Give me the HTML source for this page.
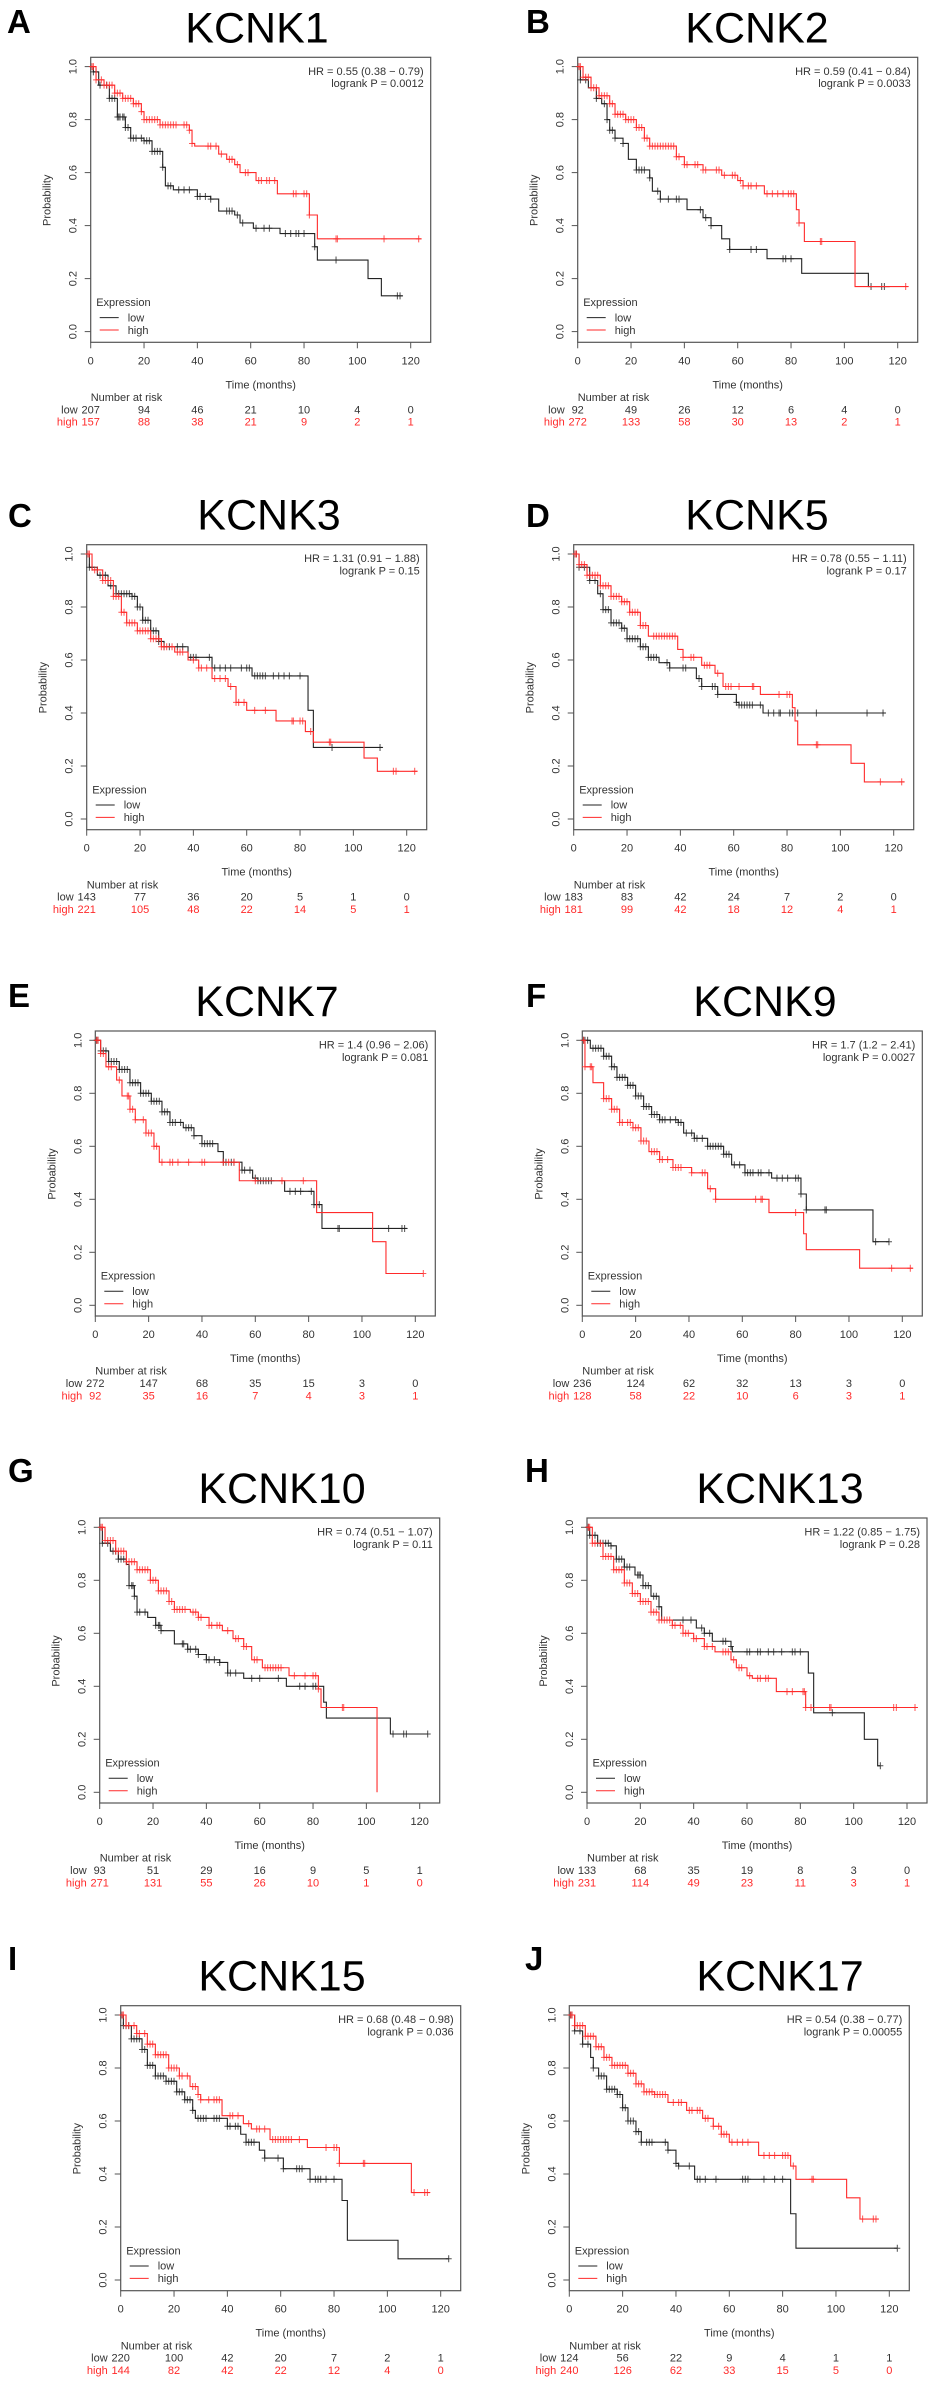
<!DOCTYPE html>
<html><head><meta charset="utf-8">
<style>
html,body{margin:0;padding:0;background:#fff;}
svg{display:block;font-family:"Liberation Sans",Arial,sans-serif;}
</style></head>
<body>
<svg id="fig" width="935" height="2384" viewBox="0 0 935 2384" xmlns="http://www.w3.org/2000/svg"></svg>
<script>
// ---- data (months, survival probability) ----
const A_low=[[0,1],[1,0.98],[3,0.93],[7,0.88],[10,0.81],[13,0.77],[15,0.73],[20,0.72],[23,0.68],[27,0.62],[28,0.55],[31,0.535],[40,0.51],[45,0.5],[48,0.455],[54,0.44],[56,0.41],[61,0.39],[71,0.37],[84,0.32],[85,0.27],[104,0.2],[109,0.135],[117,0.135]];
const A_high=[[0,1],[2,0.95],[5,0.93],[9,0.9],[12,0.88],[16,0.86],[19,0.83],[20,0.8],[26,0.78],[37,0.76],[38,0.71],[39,0.7],[48,0.67],[51,0.65],[54,0.63],[56,0.6],[62,0.57],[70,0.52],[82,0.44],[85,0.35],[124,0.35]];
const A_lowC=[1,2,3.5,6,7,8,9,10,10.5,11,12,12.5,13,14,15,16,17,19,20,21,22,23,24,25,26,27,29,30,33,35,37,40,41,43,45,51,52,53,55,57,62,65,67,73,75,77,78,80,84,92,115,116];
const A_highC=[0.5,1,2,4,5,6,7,8,9,10,11,12,13,14,15,16,17,18,19,20,21,22,23,24,25,26,27,28,29,30,31,32,35,36,37,38,44,45,47,49,52,53,55,58,59,63,64,66,67,69,76,77,80,81,82,92,92.5,110,123];
const B_low=[[0,1],[1,0.95],[4,0.92],[7,0.88],[9,0.86],[11,0.8],[12,0.76],[14,0.73],[17,0.71],[19,0.65],[22,0.61],[27,0.58],[28,0.53],[31,0.5],[41,0.46],[47,0.43],[50,0.4],[54,0.35],[57,0.31],[71,0.275],[84,0.22],[109,0.17],[117,0.17]];
const B_high=[[0,1],[2,0.96],[5,0.92],[8,0.89],[12,0.86],[14,0.82],[18,0.8],[22,0.77],[25,0.73],[27,0.7],[37,0.66],[40,0.63],[47,0.61],[54,0.59],[60,0.57],[62,0.55],[70,0.52],[82,0.46],[83,0.41],[85,0.34],[104,0.17],[124,0.17]];
const B_lowC=[1,3,7,10,11,12,13,14,17,22,23,24,25,27,30,31,34,37,38,46,48,50,57,65,67,77,78,80,110,114,115];
const B_highC=[0.5,1,2,3,4,5,6,7,8,9,10,11,12,13,14,15,16,17,18,19,20,21,22,23,24,25,26,27,28,29,30,31,32,33,34,35,36,37,38,40,41,44,45,47,48,52,53,55,58,59,61,62,64,65,67,71,73,75,77,79,80,81,83,91,91.5,123];
const C_low=[[0,1],[1,0.95],[4,0.92],[8,0.88],[11,0.85],[17,0.84],[19,0.8],[21,0.75],[24,0.71],[27,0.67],[29,0.65],[38,0.61],[47,0.57],[62,0.54],[83,0.41],[85,0.27],[111,0.27]];
const C_high=[[0,1],[2,0.94],[6,0.9],[10,0.84],[13,0.78],[15,0.74],[19,0.71],[24,0.68],[28,0.65],[33,0.63],[38,0.6],[42,0.57],[47,0.53],[53,0.5],[56,0.44],[60,0.41],[71,0.37],[82,0.33],[85,0.29],[104,0.23],[109,0.18],[124,0.18]];
const C_lowC=[1,2,5,7,9,11,12,13,14,15,16,17,18,19,20,21,22,23,24,25,26,27,28,29,31,34,36,39,40,41,46,48,50,52,54,58,60,61,63,64,65,66,67,70,72,74,76,80,92,110];
const C_highC=[0.5,1,3,4,6,7,8,9,10,11,12,13,14,15,16,17,18,19,20,21,22,23,24,25,26,27,28,29,30,32,34,35,36,40,42,43,45,48,50,52,54,56,57,59,63,67,77,77.5,80,81,84,91,91.5,115,116,123];
const D_low=[[0,1],[2,0.95],[6,0.9],[9,0.85],[11,0.79],[14,0.74],[18,0.72],[20,0.68],[25,0.65],[28,0.61],[32,0.59],[36,0.57],[46,0.53],[48,0.5],[54,0.47],[61,0.44],[62,0.43],[71,0.4],[117,0.4]];
const D_high=[[0,1],[2,0.96],[5,0.92],[10,0.88],[14,0.84],[18,0.82],[21,0.78],[25,0.73],[28,0.69],[39,0.64],[41,0.61],[48,0.58],[53,0.55],[56,0.5],[70,0.47],[82,0.42],[83,0.37],[84,0.28],[104,0.21],[109,0.14],[124,0.14]];
const D_lowC=[1,2,4,6,8,10,11,12,13,14,15,16,17,18,19,20,21,22,23,24,25,26,27,28,29,30,31,35,36,41,42,47,48,52,53,54,61,62,63,64,65,66,67,70,73,75,77,77.5,81,82,84,91,110,116];
const D_highC=[0.5,1,2,3,4,5,6,7,8,9,10,11,12,13,14,15,16,17,18,19,20,21,22,23,24,25,26,27,30,31,32,33,34,35,36,37,38,41,44,45,49,50,51,54,57,58,59,62,67,67.5,77,80,81,91,91.5,115,123];
const E_low=[[0,1],[2,0.96],[5,0.92],[9,0.89],[13,0.84],[17,0.8],[21,0.77],[25,0.73],[28,0.69],[33,0.67],[37,0.64],[40,0.61],[46,0.58],[48,0.54],[55,0.51],[59,0.48],[61,0.47],[71,0.43],[82,0.38],[85,0.29],[117,0.29]];
const E_high=[[0,1],[2,0.95],[4,0.9],[8,0.85],[10,0.79],[13,0.74],[15,0.7],[19,0.65],[22,0.6],[24,0.54],[54,0.47],[83,0.35],[104,0.24],[109,0.12],[123,0.12]];
const E_lowC=[0.5,1,2,3,4,5,6,7,8,9,10,11,12,13,14,15,16,17,18,19,20,21,22,23,24,25,26,27,28,29,30,32,34,35,36,37,40,41,42,43,44,48,49,51,52,55,56,58,60,61,62,63,64,65,66,73,75,77,81,82,83,84,91,91.5,110,115,116];
const E_highC=[0.5,1,2,3,5,6,9,12,12.5,13,14,15,18,19,20,21,22,23,25,28,29,31,35,40,41,48,50,52,60,70,78,123];
const F_low=[[0,1],[3,0.97],[8,0.94],[11,0.9],[13,0.86],[17,0.83],[20,0.79],[23,0.75],[26,0.72],[29,0.7],[36,0.69],[38,0.65],[42,0.63],[47,0.6],[53,0.57],[56,0.53],[61,0.5],[71,0.48],[82,0.42],[84,0.36],[109,0.24],[115,0.24]];
const F_high=[[0,1],[1,0.9],[4,0.84],[8,0.78],[11,0.74],[14,0.69],[19,0.67],[22,0.62],[25,0.58],[29,0.55],[34,0.52],[41,0.5],[47,0.44],[50,0.4],[70,0.35],[83,0.27],[84,0.21],[104,0.14],[124,0.14]];
const F_lowC=[0.5,1,2,4,5,6,7,8,9,10,11,12,13,14,15,16,17,18,19,20,21,22,23,24,25,26,27,28,29,30,31,33,35,36,37,39,41,42,43,45,47,48,49,50,51,52,53,54,55,57,59,61,62,63,64,66,67,70,73,75,77,80,81,82,84,91,91.5,110,115];
const F_highC=[0.5,1,3,3.5,8,9,10,11,12,13,14,15,17,18,19,20,21,22,23,24,26,27,28,29,30,32,34,35,36,37,41,45,46,48,50,65,67,67.5,80,116,123];
const G_low=[[0,1],[1,0.94],[4,0.91],[7,0.88],[10,0.86],[11,0.78],[13,0.74],[14,0.68],[18,0.66],[21,0.63],[23,0.61],[28,0.56],[33,0.54],[37,0.52],[40,0.5],[45,0.49],[48,0.45],[54,0.43],[70,0.4],[84,0.34],[85,0.28],[109,0.22],[123,0.22]];
const G_high=[[0,1],[2,0.95],[6,0.91],[10,0.87],[14,0.84],[19,0.8],[22,0.76],[26,0.72],[28,0.69],[34,0.68],[37,0.66],[41,0.63],[46,0.61],[50,0.58],[54,0.55],[57,0.5],[61,0.47],[71,0.44],[82,0.39],[83,0.32],[104,0],[104,0]];
const G_lowC=[1,3,5,6,7,8,9,11,12,12.5,13,14,15,17,21,22,22.5,23,31,31.5,33,34,36,37,40,41,43,45,48,49,51,57,60,67,75,77,80,81,110,114,115,123];
const G_highC=[0.5,1,2,3,4,5,6,7,8,9,10,11,12,13,14,15,16,17,18,19,20,21,22,23,24,25,26,27,28,29,30,31,32,35,36,37,38,41,42,44,45,48,51,52,54,55,58,59,62,63,64,65,66,67,68,73,77,80,81,82,91,91.5];
const H_low=[[0,1],[1,0.97],[4,0.94],[9,0.93],[11,0.88],[14,0.85],[18,0.82],[21,0.78],[24,0.74],[27,0.7],[28,0.65],[41,0.62],[44,0.6],[47,0.57],[54,0.55],[54.5,0.53],[83,0.45],[85,0.3],[104,0.2],[109,0.1],[110,0.1]];
const H_high=[[0,1],[2,0.94],[6,0.89],[10,0.84],[14,0.79],[17,0.75],[20,0.72],[24,0.68],[27,0.65],[32,0.63],[36,0.6],[40,0.58],[44,0.55],[48,0.53],[54,0.5],[56,0.47],[60,0.44],[62,0.43],[71,0.38],[82,0.32],[124,0.32]];
const H_lowC=[0.5,1,3,4,5,6,7,8,9,11,12,13,14,15,16,19,19.5,20,21,22,23,25,26,27,36,39,43,44,46,51,52,54,60,61,64,65,68,70,73,77,78,80,92,110];
const H_highC=[0.5,1,2,3,5,6,7,8,9,10,11,12,13,14,15,16,17,18,19,20,21,22,23,24,25,26,27,28,29,30,31,32,33,35,36,37,38,40,41,44,45,47,51,52,53,55,57,58,61,64,65,67,68,75,77,81,81.5,82,84,91,91.5,115,116,123];
const I_low=[[0,1],[1,0.96],[4,0.91],[8,0.87],[10,0.81],[13,0.77],[17,0.75],[21,0.71],[24,0.68],[27,0.64],[28,0.61],[36,0.61],[40,0.58],[45,0.55],[47,0.52],[52,0.49],[54,0.46],[61,0.42],[71,0.38],[83,0.3],[85,0.15],[104,0.08],[123,0.08]];
const I_high=[[0,1],[2,0.96],[6,0.93],[10,0.89],[13,0.85],[18,0.8],[22,0.77],[26,0.73],[29,0.7],[30,0.68],[38,0.62],[46,0.59],[49,0.57],[56,0.53],[70,0.5],[82,0.44],[109,0.33],[116,0.33]];
const I_lowC=[0.5,1,2,3,4,5,6,7,8,9,10,11,12,13,14,15,16,17,18,19,20,21,22,23,24,25,26,27,29,30,31,32,35,36,37,40,41,43,44,47,48,49,50,54,59,61,66,67,68,71,73,74,75,77,80,123];
const I_highC=[0.5,1,2,3,5,6,7,9,10,11,12,13,14,15,16,17,18,19,20,21,22,23,25,27,28,29,30,33,35,36,37,41,42,44,48,51,52,54,57,58,59,60,61,62,63,64,67,77,80,81,82,91,91.5,110,114,115];
const J_low=[[0,1],[2,0.94],[5,0.89],[8,0.84],[9,0.8],[11,0.77],[14,0.72],[18,0.7],[20,0.65],[22,0.6],[25,0.56],[27,0.52],[33,0.52],[37,0.49],[40,0.44],[41,0.43],[47,0.38],[83,0.25],[85,0.12],[123,0.12]];
const J_high=[[0,1],[2,0.96],[6,0.92],[10,0.88],[13,0.84],[16,0.81],[22,0.78],[25,0.74],[28,0.71],[32,0.7],[37,0.67],[44,0.64],[50,0.61],[54,0.58],[57,0.55],[60,0.52],[71,0.47],[83,0.43],[85,0.38],[104,0.31],[109,0.23],[116,0.23]];
const J_lowC=[0.5,1,2,4,5,7,9,11,12,13,14,15,16,17,18,19,20,21,22,23,24,25,26,27,29,30,31,36,37,40,41,45,48,49,51,55,65,66,67,73,77,80,123];
const J_highC=[0.5,1,2,3,4,5,6,7,8,9,10,11,12,13,14,15,16,17,18,19,20,21,22,23,24,25,26,27,28,29,30,31,32,33,34,35,36,39,41,42,45,46,48,49,51,52,54,56,57,58,59,61,63,65,67,73,75,77,80,81,82,84,91,91.5,110,114,115];

const A_riskLow=["207","94","46","21","10","4","0"], A_riskHigh=["157","88","38","21","9","2","1"];
const B_riskLow=["92","49","26","12","6","4","0"], B_riskHigh=["272","133","58","30","13","2","1"];
const C_riskLow=["143","77","36","20","5","1","0"], C_riskHigh=["221","105","48","22","14","5","1"];
const D_riskLow=["183","83","42","24","7","2","0"], D_riskHigh=["181","99","42","18","12","4","1"];
const E_riskLow=["272","147","68","35","15","3","0"], E_riskHigh=["92","35","16","7","4","3","1"];
const F_riskLow=["236","124","62","32","13","3","0"], F_riskHigh=["128","58","22","10","6","3","1"];
const G_riskLow=["93","51","29","16","9","5","1"], G_riskHigh=["271","131","55","26","10","1","0"];
const H_riskLow=["133","68","35","19","8","3","0"], H_riskHigh=["231","114","49","23","11","3","1"];
const I_riskLow=["220","100","42","20","7","2","1"], I_riskHigh=["144","82","42","22","12","4","0"];
const J_riskLow=["124","56","22","9","4","1","1"], J_riskHigh=["240","126","62","33","15","5","0"];

const xTicks=[0,20,40,60,80,100,120];
const yTicks=[0,0.2,0.4,0.6,0.8,1.0];
const titles=["KCNK1","KCNK2","KCNK3","KCNK5","KCNK7","KCNK9","KCNK10","KCNK13","KCNK15","KCNK17"];
const letters=["A","B","C","D","E","F","G","H","I","J"];
const hrText=["HR = 0.55 (0.38 − 0.79)","HR = 0.59 (0.41 − 0.84)","HR = 1.31 (0.91 − 1.88)","HR = 0.78 (0.55 − 1.11)","HR = 1.4 (0.96 − 2.06)","HR = 1.7 (1.2 − 2.41)","HR = 0.74 (0.51 − 1.07)","HR = 1.22 (0.85 − 1.75)","HR = 0.68 (0.48 − 0.98)","HR = 0.54 (0.38 − 0.77)"];
const pText=["logrank P = 0.0012","logrank P = 0.0033","logrank P = 0.15","logrank P = 0.17","logrank P = 0.081","logrank P = 0.0027","logrank P = 0.11","logrank P = 0.28","logrank P = 0.036","logrank P = 0.00055"];

// ---- layout (pixel positions, not data) ----
const layout=[
 {x0:90.7,top:57.3,tx:257,lx:7,lb:33},
 {x0:577.7,top:57.3,tx:757,lx:526,lb:33},
 {x0:86.7,top:544.7,tx:269,lx:8,lb:527},
 {x0:573.7,top:544.7,tx:757,lx:526,lb:527},
 {x0:95.3,top:1031,tx:267,lx:8,lb:1007},
 {x0:582.3,top:1031,tx:765,lx:526,lb:1007},
 {x0:99.7,top:1518,tx:282,lx:8,lb:1482},
 {x0:587,top:1518,tx:780,lx:525,lb:1482},
 {x0:120.7,top:2005.7,tx:282,lx:8,lb:1970},
 {x0:569.3,top:2005.7,tx:780,lx:525,lb:1970}
];
const lowSeries=[A_low,B_low,C_low,D_low,E_low,F_low,G_low,H_low,I_low,J_low];
const highSeries=[A_high,B_high,C_high,D_high,E_high,F_high,G_high,H_high,I_high,J_high];
const lowCens=[A_lowC,B_lowC,C_lowC,D_lowC,E_lowC,F_lowC,G_lowC,H_lowC,I_lowC,J_lowC];
const highCens=[A_highC,B_highC,C_highC,D_highC,E_highC,F_highC,G_highC,H_highC,I_highC,J_highC];
const riskLows=[A_riskLow,B_riskLow,C_riskLow,D_riskLow,E_riskLow,F_riskLow,G_riskLow,H_riskLow,I_riskLow,J_riskLow];
const riskHighs=[A_riskHigh,B_riskHigh,C_riskHigh,D_riskHigh,E_riskHigh,F_riskHigh,G_riskHigh,H_riskHigh,I_riskHigh,J_riskHigh];

const NS="http://www.w3.org/2000/svg";
const svg=document.getElementById('fig');
const RED="#ff2a2a", BLK="#222";
function mk(tag,attrs,parent,text){const e=document.createElementNS(NS,tag);for(const k in attrs)e.setAttribute(k,attrs[k]);if(text!==undefined)e.textContent=text;parent.appendChild(e);return e;}
function survAt(series,t){let s=1;for(const p of series){if(p[0]<=t)s=p[1];else break;}return s;}

for(let i=0;i<10;i++){
 const L=layout[i];
 const sx=t=>L.x0+t*320/120;
 const sy=s=>L.top+274.3-s*265;
 const g=mk('g',{},svg);
 
 
 const lt=mk('text',{x:L.lx,y:L.lb,'font-size':33,'font-weight':'bold',fill:'#000'},g,letters[i]);
 
 
 const tt=mk('text',{x:L.tx,y:L.top-15,'font-size':43,'text-anchor':'middle',fill:'#000'},g,titles[i]);
 
 
 const box=mk('rect',{x:L.x0,y:L.top,width:340,height:285,fill:'none',stroke:'#555','stroke-width':1.2},g);
 
 
 for(const v of yTicks){
  mk('line',{x1:L.x0-6,x2:L.x0,y1:sy(v),y2:sy(v),stroke:'#555'},g);
  const yl=mk('text',{x:0,y:0,'font-size':11,'text-anchor':'middle',fill:'#333',transform:`translate(${L.x0-14},${sy(v)}) rotate(-90)`},g,v.toFixed(1));
  
  
 }
 for(const v of xTicks){
  mk('line',{x1:sx(v),x2:sx(v),y1:L.top+285,y2:L.top+291,stroke:'#555'},g);
  const xl=mk('text',{x:sx(v),y:L.top+307,'font-size':11,'text-anchor':'middle',fill:'#333'},g,String(v));
  
  
 }
 const yt=mk('text',{x:0,y:0,'font-size':11,'text-anchor':'middle',fill:'#333',transform:`translate(${L.x0-40},${L.top+143}) rotate(-90)`},g,'Probability');
 
 
 const xt=mk('text',{x:L.x0+170,y:L.top+331,'font-size':11,'text-anchor':'middle',fill:'#333'},g,'Time (months)');
 
 
 const h1=mk('text',{x:L.x0+333,y:L.top+17.5,'font-size':11,'text-anchor':'end',fill:'#333'},g,hrText[i]);
 
 
 const h2=mk('text',{x:L.x0+333,y:L.top+29.8,'font-size':11,'text-anchor':'end',fill:'#333'},g,pText[i]);
 
 
 // legend
 const lg=mk('g',{},g);
 
 
 mk('text',{x:L.x0+5.5,y:L.top+248.7,'font-size':11,fill:'#333'},lg,'Expression');
 mk('line',{x1:L.x0+9,x2:L.x0+28,y1:L.top+260.3,y2:L.top+260.3,stroke:BLK},lg);
 mk('text',{x:L.x0+37,y:L.top+264,'font-size':11,fill:'#333'},lg,'low');
 mk('line',{x1:L.x0+9,x2:L.x0+28,y1:L.top+272.7,y2:L.top+272.7,stroke:RED},lg);
 mk('text',{x:L.x0+37,y:L.top+276.5,'font-size':11,fill:'#333'},lg,'high');
 // curves
 const drawCurve=(series,cens,col,name)=>{
  let d=`M${sx(series[0][0])},${sy(series[0][1])}`;
  let prev=series[0][1];
  for(let k=1;k<series.length;k++){
   const [t,s]=series[k];
   d+=` H${sx(t)} V${sy(s)}`;prev=s;
  }
  const p=mk('path',{d:d,fill:'none',stroke:col,'stroke-width':1.1},g);
  
  
  const cg=mk('g',{stroke:col,'stroke-width':1,'stroke-opacity':0.8},g);
  
  
  for(const t of cens){
   const x=sx(t),y=sy(survAt(series,t));
   mk('path',{d:`M${x-3},${y}H${x+3}M${x},${y-3.5}V${y+3.5}`},cg);
  }
 };
 drawCurve(lowSeries[i],lowCens[i],BLK,'low');
 drawCurve(highSeries[i],highCens[i],RED,'high');
 // risk table
 const rg=mk('g',{},g);
 
 
 mk('text',{x:L.x0,y:L.top+343.7,'font-size':11,fill:'#333'},rg,'Number at risk');
 mk('text',{x:L.x0-13,y:L.top+356,'font-size':11,'text-anchor':'end',fill:'#333'},rg,'low');
 mk('text',{x:L.x0-13,y:L.top+368.3,'font-size':11,'text-anchor':'end',fill:RED},rg,'high');
 for(let k=0;k<xTicks.length;k++){
  mk('text',{x:sx(xTicks[k]),y:L.top+356,'font-size':11,'text-anchor':'middle',fill:'#333'},rg,riskLows[i][k]);
  mk('text',{x:sx(xTicks[k]),y:L.top+368.3,'font-size':11,'text-anchor':'middle',fill:RED},rg,riskHighs[i][k]);
 }
}
</script>
</body></html>
